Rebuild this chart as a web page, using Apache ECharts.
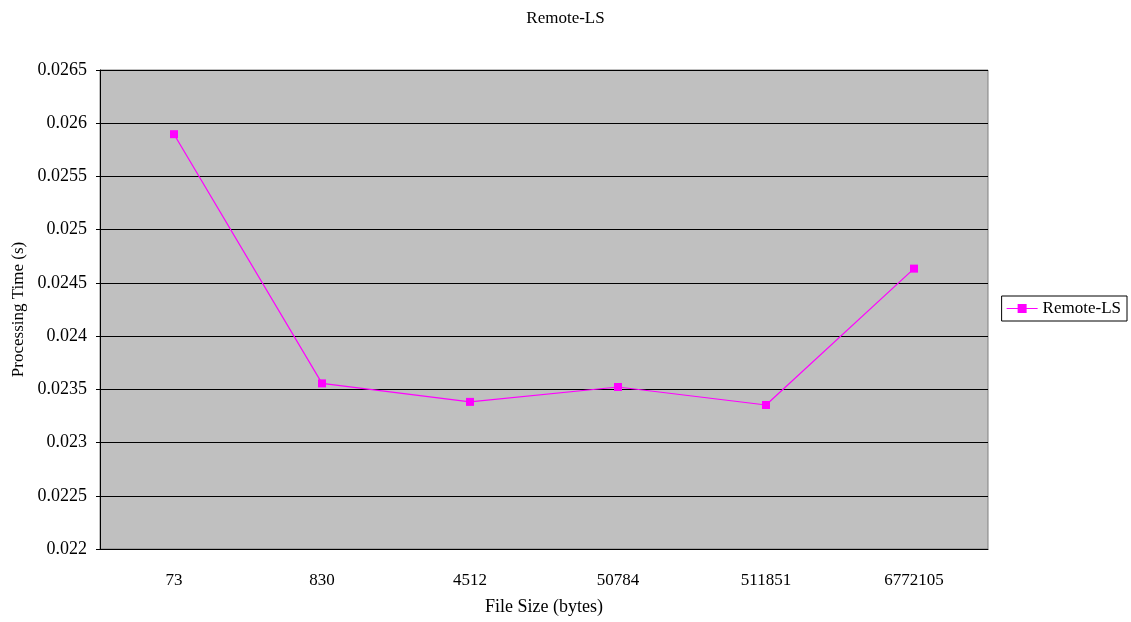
<!DOCTYPE html>
<html><head><meta charset="utf-8">
<script src="https://cdn.jsdelivr.net/npm/echarts@6/dist/echarts.min.js"></script>
<style>html,body{margin:0;padding:0;background:#fff}#c{width:1131px;height:622px}</style>
</head><body><div id="c"></div>
<script>
const categories = ['73','830','4512','50784','511851','6772105'];
const remoteLS = [0.025897, 0.023556, 0.023382, 0.023522, 0.023353, 0.024634];
const yTicks = {min:0.022, max:0.0265, interval:0.0005};
const font = '"Liberation Serif","Times New Roman",serif';
const chart = echarts.init(document.getElementById('c'));
chart.setOption({
  animation:false,
  backgroundColor:'#fff',
  title:{text:'Remote-LS', left:'center', top:5, textStyle:{fontFamily:font, fontSize:17, fontWeight:'normal', color:'#000'}},
  legend:{right:4, top:296, orient:'vertical', backgroundColor:'#fff', borderColor:'#000', borderWidth:1, padding:[4,6,4,5],
    itemWidth:31, itemHeight:9, itemGap:5, textStyle:{fontFamily:font, fontSize:17, color:'#000'},
    data:[{name:'Remote-LS', icon:'path://M0,4L11,4L11,0L20,0L20,4L31,4L31,5L20,5L20,9L11,9L11,5L0,5Z'}]},
  grid:{left:100, right:143, top:70, bottom:73, outerBoundsMode:'none', show:true, backgroundColor:'#C0C0C0', borderColor:'#808080', borderWidth:1},
  xAxis:{type:'category', data:categories, boundaryGap:true, name:'File Size (bytes)', nameLocation:'middle', nameGap:49,
    nameTextStyle:{fontFamily:font, fontSize:18, color:'#000'},
    axisLine:{lineStyle:{color:'#000', width:1}}, axisTick:{inside:true, length:6, lineStyle:{color:'#000'}},
    axisLabel:{fontFamily:font, fontSize:17, color:'#000', margin:23}},
  yAxis:{type:'value', min:yTicks.min, max:yTicks.max, interval:yTicks.interval, name:'Processing Time (s)', nameLocation:'middle', nameGap:70,
    nameTextStyle:{fontFamily:font, fontSize:17, color:'#000'},
    axisLine:{show:true, lineStyle:{color:'#000'}}, axisTick:{show:true, length:4, lineStyle:{color:'#000'}},
    axisLabel:{fontFamily:font, fontSize:18, color:'#000', margin:13, formatter:v=>String(+v.toFixed(4))},
    splitLine:{lineStyle:{color:'#000', width:1}}},
  series:[{name:'Remote-LS', type:'line', data:remoteLS, symbol:'rect', symbolSize:8,
    lineStyle:{color:'#FF00FF', width:1.2}, itemStyle:{color:'#FF00FF'}}]
});
</script></body></html>
